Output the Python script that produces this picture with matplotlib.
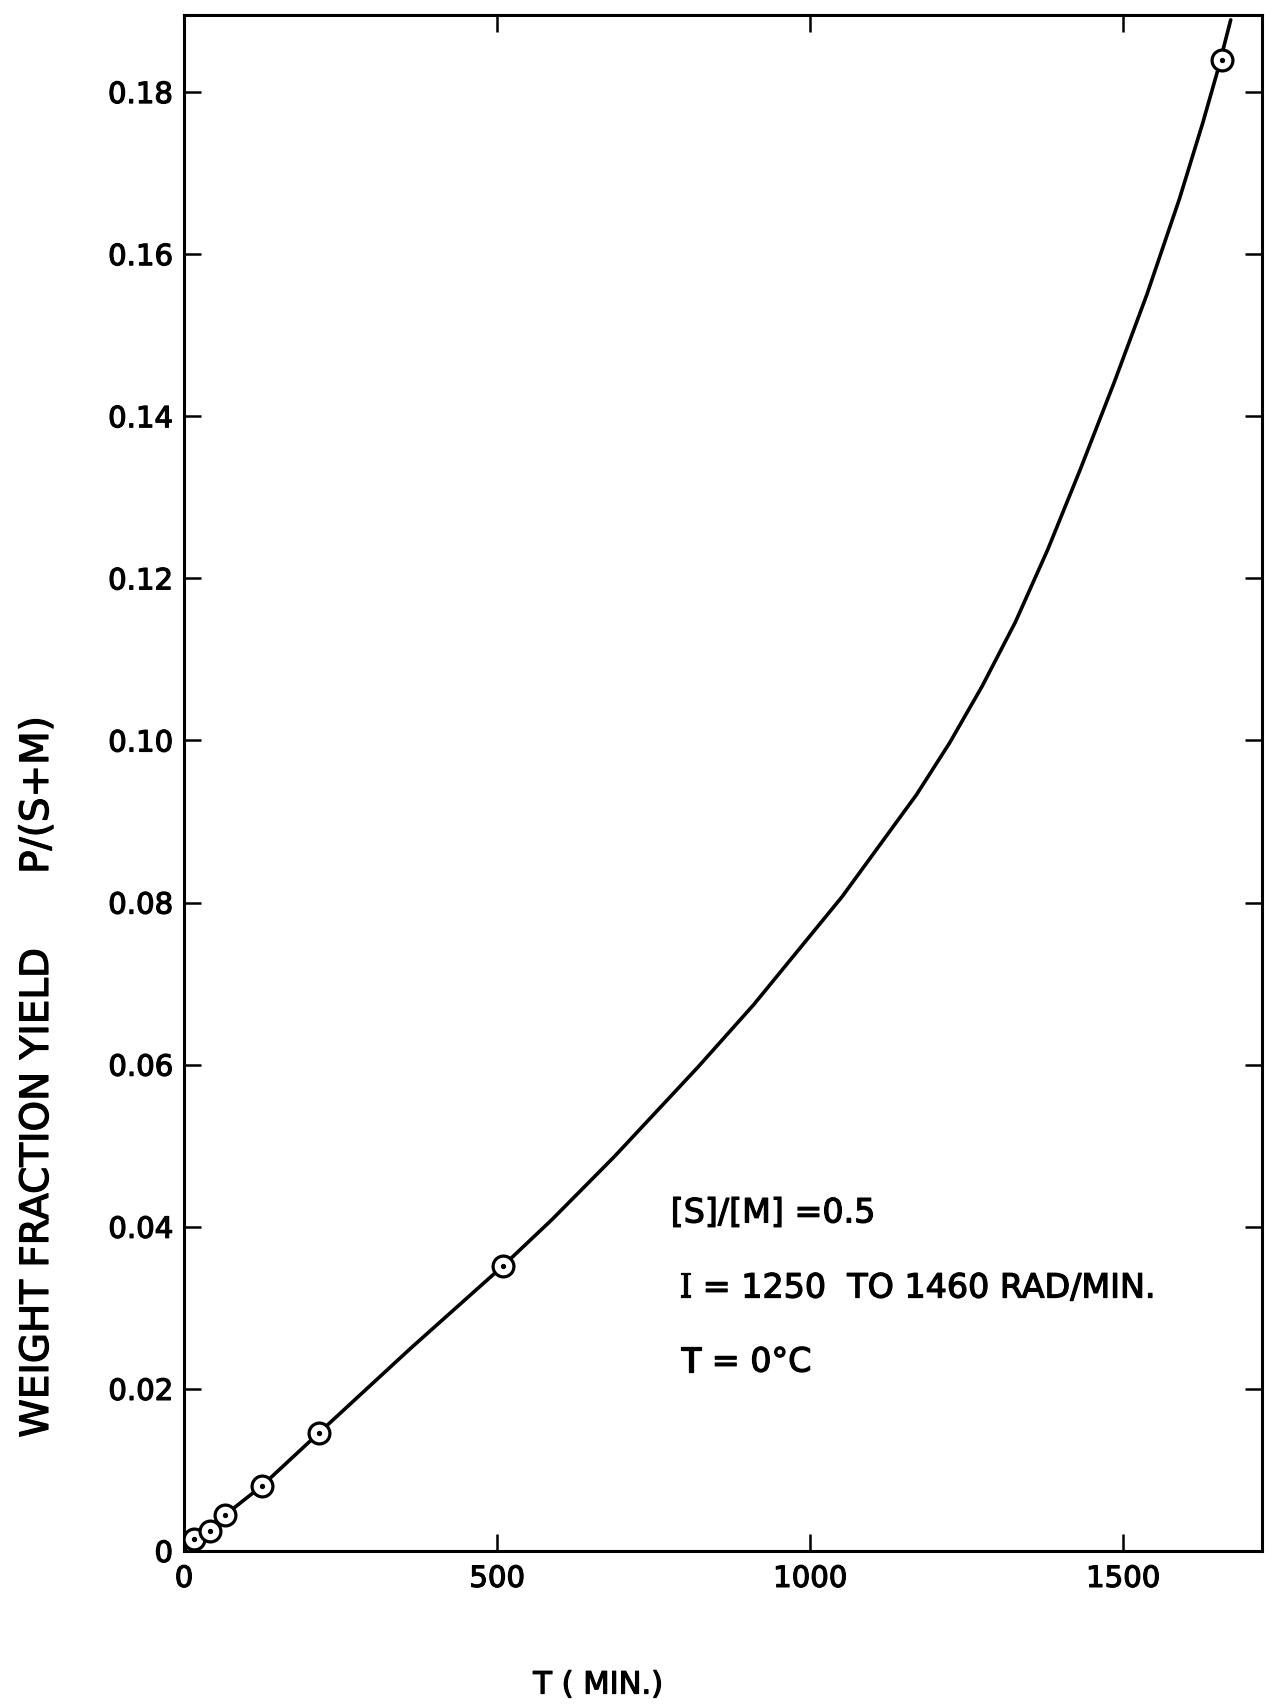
import matplotlib
matplotlib.use("Agg")
import matplotlib.pyplot as plt
import matplotlib.patheffects as pe

# measured yield points
t_pts = [16, 41, 65, 124, 216, 510, 1658]
y_pts = [0.0015, 0.0025, 0.0044, 0.0080, 0.0146, 0.0352, 0.1840]

# smooth curve drawn through the data
t_curve = [0, 16, 41, 65, 124, 216, 362, 510, 588, 688, 821, 910, 1051, 1170,
           1223, 1275, 1328, 1380, 1432, 1486, 1538, 1590, 1627, 1651, 1672]
y_curve = [0, 0.0015, 0.0025, 0.0044, 0.0080, 0.0146, 0.0250, 0.0352, 0.0409,
           0.0487, 0.0597, 0.0674, 0.0807, 0.0933, 0.0997, 0.1067, 0.1146,
           0.1236, 0.1335, 0.1442, 0.1550, 0.1668, 0.1761, 0.1826, 0.1889]

x_ticks = [0, 500, 1000, 1500]
x_labels = ["0", "500", "1000", "1500"]
y_ticks = [0, 0.02, 0.04, 0.06, 0.08, 0.10, 0.12, 0.14, 0.16, 0.18]
y_labels = ["0", "0.02", "0.04", "0.06", "0.08", "0.10", "0.12", "0.14", "0.16", "0.18"]

# heavier lettering
bold = [pe.withStroke(linewidth=0.9, foreground="black")]

fig = plt.figure(figsize=(12.74, 17.07), dpi=100)
ax = fig.add_axes([0.1444, 0.0914, 0.8462, 0.8998])

ax.plot(t_curve, y_curve, color="black", lw=2.6, solid_joinstyle="round",
        solid_capstyle="round", zorder=2)
ax.plot(t_pts, y_pts, "o", ms=15, mfc="white", mec="black", mew=2.3, zorder=3)
ax.plot(t_pts, y_pts, "o", ms=2.8, color="black", zorder=4)

ax.set_xlim(0, 1722)
ax.set_ylim(0, 0.1895)
ax.set_xticks(x_ticks)
ax.set_xticklabels(x_labels)
ax.set_yticks(y_ticks)
ax.set_yticklabels(y_labels)
ax.tick_params(axis="both", direction="in", length=12, width=1.8,
               top=True, right=True, labelsize=21)
ax.tick_params(axis="x", pad=10)
ax.tick_params(axis="y", pad=8)
for lab in ax.get_xticklabels() + ax.get_yticklabels():
    lab.set_path_effects(bold)
for s in ax.spines.values():
    s.set_linewidth(2.2)

# axis titles
fig.text(0.029, 0.3694, "WEIGHT FRACTION YIELD      P/(S+M)", rotation=90,
         ha="center", va="center", fontsize=28, path_effects=bold)
fig.text(598 / 1274, 1 - 1685 / 1707, "T ( MIN.)", ha="center", va="center",
         fontsize=22, path_effects=bold)

# run conditions
ax.text(0.4515, 0.2201, "[S]/[M] =0.5", transform=ax.transAxes,
        ha="left", va="center", fontsize=24, path_effects=bold)
ax.text(0.4590, 0.1712, "I", transform=ax.transAxes, family="DejaVu Serif",
        ha="left", va="center", fontsize=24, path_effects=bold)
ax.text(0.4812, 0.1712, "= 1250  TO 1460 RAD/MIN.", transform=ax.transAxes,
        ha="left", va="center", fontsize=24, path_effects=bold)
ax.text(0.4608, 0.1230, "T", transform=ax.transAxes,
        ha="left", va="center", fontsize=24, path_effects=bold)
ax.text(0.4896, 0.1230, "= 0°C", transform=ax.transAxes,
        ha="left", va="center", fontsize=24, path_effects=bold)

fig.savefig("out.png", dpi=100, facecolor="white")
